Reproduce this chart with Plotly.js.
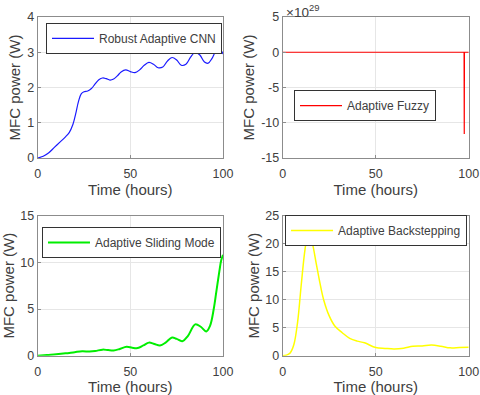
<!DOCTYPE html>
<html>
<head>
<meta charset="utf-8">
<script src="https://cdn.plot.ly/plotly-3.0.1.min.js"></script>
<style>
  html, body { margin: 0; padding: 0; background: #fff; }
  #chart { width: 480px; height: 395px; }
</style>
</head>
<body>
<div id="chart"></div>
<script>
// values (time in hours, power in W)
const cnnTime  = [0, 3, 6, 9, 12, 15, 17, 19, 20.5, 22, 23.5, 25, 27, 29, 31, 33, 35, 37, 39, 41, 43, 45, 47.5, 50, 52.5, 55, 57.5, 60, 62.5, 65, 67.5, 70, 72.5, 75, 77.5, 80, 82.5, 85, 87.5, 90, 92, 94, 96, 98, 99, 100];
const cnnPower = [0, 0.05, 0.15, 0.3, 0.45, 0.6, 0.72, 0.95, 1.25, 1.6, 1.82, 1.88, 1.9, 1.97, 2.1, 2.22, 2.27, 2.25, 2.21, 2.24, 2.33, 2.44, 2.5, 2.45, 2.42, 2.5, 2.63, 2.71, 2.66, 2.56, 2.58, 2.75, 2.85, 2.78, 2.63, 2.66, 2.86, 3.0, 2.92, 2.72, 2.69, 2.82, 3.02, 3.1, 3.05, 2.95];

const fuzzyTime  = [0, 97.5, 97.6, 97.7, 100];
const fuzzyPower = [0, 0, -1.16e30, 0, 0];
const fuzzyExp = 29;

const smcTime  = [0, 5, 10, 15, 20, 24, 28, 31, 35, 38, 41, 44, 48, 51, 54, 57, 60, 63, 66, 69, 72.5, 75, 78, 81, 85, 88, 91, 93, 95, 96.5, 98, 99, 100];
const smcPower = [0, 0.08, 0.15, 0.25, 0.38, 0.47, 0.45, 0.5, 0.65, 0.6, 0.57, 0.7, 0.95, 0.85, 0.82, 1.1, 1.4, 1.25, 1.1, 1.4, 1.95, 1.8, 1.55, 2.1, 3.35, 3.1, 2.6, 3.2, 5.0, 7.0, 9.0, 10.2, 10.8];

const bsTime  = [0, 2, 4, 6, 8, 10, 12, 13.5, 15, 16, 18, 20, 22, 25, 28, 32, 36, 40, 44, 50, 55, 60, 65, 70, 75, 80, 85, 90, 95, 100];
const bsPower = [0, 0.1, 0.5, 2, 6, 12.8, 19, 21.5, 21, 20, 16.5, 13, 10, 7.1, 5.3, 4.1, 3.1, 2.6, 2.3, 1.45, 1.3, 1.2, 1.35, 1.7, 1.75, 1.9, 1.7, 1.4, 1.45, 1.5];

const names = ['Robust Adaptive CNN', 'Adaptive Fuzzy', 'Adaptive Sliding Mode', 'Adaptive Backstepping'];
const colors = ['#1a1aff', '#ff0000', '#00ee00', '#ffff00'];

const font = 'Liberation Sans, Arial, Helvetica, sans-serif';
const textColor = '#404040';

const traces = [
  {x: cnnTime, y: cnnPower, xaxis: 'x', yaxis: 'y', legend: 'legend',
   mode: 'lines', line: {color: colors[0], width: 1.2, shape: 'spline'}, name: names[0]},
  {x: fuzzyTime, y: fuzzyPower, xaxis: 'x2', yaxis: 'y2', legend: 'legend2',
   mode: 'lines', line: {color: colors[1], width: 1.2}, name: names[1]},
  {x: smcTime, y: smcPower, xaxis: 'x3', yaxis: 'y3', legend: 'legend3',
   mode: 'lines', line: {color: colors[2], width: 2, shape: 'spline'}, name: names[2]},
  {x: bsTime, y: bsPower, xaxis: 'x4', yaxis: 'y4', legend: 'legend4',
   mode: 'lines', line: {color: colors[3], width: 1.5, shape: 'spline'}, name: names[3]}
];

function xAx(domain, anchor) {
  return {
    domain: domain, anchor: anchor, range: [0, 100], dtick: 50,
    showline: true, mirror: true, linecolor: '#8c8c8c', linewidth: 1,
    showgrid: true, gridcolor: '#e6e6e6', zeroline: false,
    ticks: 'inside', ticklen: 3, tickcolor: '#8c8c8c',
    ticklabelstandoff: 4,
    tickfont: {family: font, size: 12.5, color: textColor},
    title: {text: 'Time (hours)', standoff: 3, font: {family: font, size: 15, color: textColor}}
  };
}
function yAx(domain, anchor, range, dtick) {
  return {
    domain: domain, anchor: anchor, range: range, dtick: dtick,
    showline: true, mirror: true, linecolor: '#8c8c8c', linewidth: 1,
    showgrid: true, gridcolor: '#e6e6e6', zeroline: false,
    ticks: 'inside', ticklen: 3, tickcolor: '#8c8c8c',
    tickfont: {family: font, size: 12.5, color: textColor},
    title: {text: 'MFC power (W)', standoff: 2, font: {family: font, size: 15, color: textColor}}
  };
}
function leg(x, y, xanchor) {
  return {
    x: x, y: y, xanchor: xanchor, yanchor: 'top',
    bgcolor: '#ffffff', bordercolor: '#333333', borderwidth: 1,
    itemwidth: 42,
    font: {family: font, size: 12, color: textColor}
  };
}

const colL = [0.0785, 0.4646], colR = [0.589, 0.9765];
const rowT = [0.6, 0.957], rowB = [0.0995, 0.454];
const scale = Math.pow(10, fuzzyExp);
const fuzzyTicks = [-15, -10, -5, 0, 5];

const y2 = yAx(rowT, 'x2', [-15 * scale, 5 * scale], null);
y2.tickvals = fuzzyTicks.map(v => v * scale);
y2.ticktext = fuzzyTicks.map(String);

const layout = {
  width: 480, height: 395,
  margin: {l: 0, r: 0, t: 0, b: 0},
  paper_bgcolor: '#ffffff', plot_bgcolor: '#ffffff',
  font: {family: font, color: textColor},
  showlegend: true,
  xaxis: xAx(colL, 'y'),   yaxis: yAx(rowT, 'x', [0, 4], 1),
  xaxis2: xAx(colR, 'y2'), yaxis2: y2,
  xaxis3: xAx(colL, 'y3'), yaxis3: yAx(rowB, 'x3', [0, 15], 5),
  xaxis4: xAx(colR, 'y4'), yaxis4: yAx(rowB, 'x4', [0, 25], 5),
  legend: leg(0.4625, 0.942, 'right'),
  legend2: leg(0.6125, 0.772, 'left'),
  legend3: leg(0.4604, 0.4253, 'right'),
  legend4: leg(0.973, 0.456, 'right'),
  annotations: [{
    xref: 'paper', yref: 'paper', x: 0.592, y: 1.0, xanchor: 'left', yanchor: 'top',
    text: '\u00d710<sup>' + fuzzyExp + '</sup>', showarrow: false,
    font: {family: font, size: 13.5, color: textColor}
  }]
};

Plotly.newPlot('chart', traces, layout, {displayModeBar: false, staticPlot: true});
</script>
</body>
</html>
